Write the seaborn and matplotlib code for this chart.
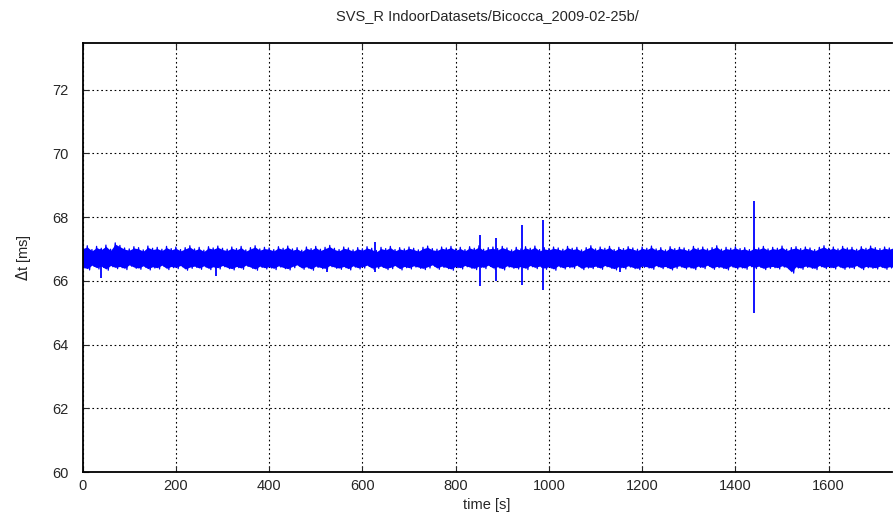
import seaborn as sns
import pandas as pd
import numpy as np
import matplotlib.pyplot as plt

# time grid of the envelope samples (s)
step = 10
t_start = 0
# upper edge of the jitter band, one value every 10 s (ms)
band_hi = [
    67.05, 67.10, 66.98, 67.08, 67.02, 67.12, 66.99, 67.19, 67.11, 67.03,
    67.00, 67.07, 67.04, 66.97, 67.09, 67.02, 67.05, 66.99, 67.08, 67.01,
    67.06, 66.98, 67.04, 67.10, 67.00, 67.05, 66.96, 67.07, 67.03, 67.09,
    67.02, 66.99, 67.06, 67.01, 67.08, 66.97, 67.04, 67.10, 67.00, 67.05,
    67.03, 66.98, 67.07, 67.02, 67.09, 67.00, 67.04, 66.96, 67.06, 67.01,
    67.08, 66.99, 67.05, 67.11, 67.02, 66.98, 67.06, 67.03, 66.97, 67.04,
    67.00, 67.07, 67.02, 66.95, 67.05, 67.01, 67.08, 66.98, 67.04, 67.00,
    67.06, 67.02, 66.97, 67.05, 67.09, 67.01, 66.99, 67.06, 67.03, 67.08,
    67.00, 67.05, 66.98, 67.07, 67.02, 67.10, 66.99, 67.04, 67.06, 67.01,
    67.08, 67.03, 66.97, 67.05, 67.00, 67.07, 67.02, 67.09, 66.98, 67.04,
    67.01, 67.06, 67.03, 66.99, 67.08, 67.02, 67.05, 66.97, 67.04, 67.10,
    67.00, 67.06, 67.02, 67.08, 66.98, 67.05, 67.01, 67.07, 67.03, 66.99,
    67.06, 67.02, 67.09, 67.00, 67.04, 66.97, 67.07, 67.01, 67.05, 67.03,
    66.98, 67.08, 67.02, 67.06, 67.00, 67.04, 67.10, 66.99, 67.05, 67.02,
    67.07, 67.01, 67.04, 66.98, 67.06, 67.03, 67.08, 67.00, 67.05, 67.02,
    67.09, 66.99, 67.04, 67.07, 67.01, 67.06, 67.03, 66.98, 67.05, 67.10,
    67.02, 67.06, 67.00, 67.08, 67.03, 67.05, 66.99, 67.07, 67.02, 67.09,
    67.04, 67.01, 67.06, 67.03, 67.08,
]
# lower edge of the jitter band (ms)
band_lo = [
    66.40, 66.34, 66.45, 66.37, 66.42, 66.33, 66.44, 66.38, 66.41, 66.35,
    66.46, 66.39, 66.36, 66.43, 66.34, 66.40, 66.37, 66.45, 66.35, 66.41,
    66.38, 66.44, 66.33, 66.39, 66.42, 66.36, 66.43, 66.35, 66.40, 66.37,
    66.44, 66.38, 66.34, 66.41, 66.36, 66.45, 66.39, 66.33, 66.42, 66.37,
    66.40, 66.35, 66.43, 66.38, 66.34, 66.41, 66.46, 66.36, 66.40, 66.33,
    66.42, 66.38, 66.35, 66.44, 66.39, 66.36, 66.41, 66.34, 66.43, 66.37,
    66.40, 66.45, 66.36, 66.39, 66.42, 66.35, 66.38, 66.44, 66.34, 66.41,
    66.37, 66.43, 66.39, 66.35, 66.40, 66.46, 66.36, 66.42, 66.38, 66.33,
    66.41, 66.37, 66.44, 66.39, 66.35, 66.42, 66.38, 66.45, 66.36, 66.40,
    66.34, 66.43, 66.39, 66.37, 66.41, 66.35, 66.44, 66.38, 66.42, 66.36,
    66.40, 66.33, 66.43, 66.37, 66.41, 66.39, 66.45, 66.35, 66.40, 66.38,
    66.42, 66.36, 66.44, 66.39, 66.34, 66.41, 66.37, 66.43, 66.38, 66.35,
    66.42, 66.40, 66.36, 66.44, 66.38, 66.41, 66.34, 66.39, 66.43, 66.37,
    66.40, 66.35, 66.42, 66.38, 66.45, 66.36, 66.41, 66.39, 66.34, 66.43,
    66.37, 66.40, 66.36, 66.44, 66.38, 66.42, 66.35, 66.39, 66.41, 66.37,
    66.43, 66.38, 66.24, 66.40, 66.36, 66.42, 66.39, 66.35, 66.44, 66.38,
    66.41, 66.37, 66.43, 66.36, 66.40, 66.38, 66.44, 66.35, 66.41, 66.39,
    66.37, 66.42, 66.36, 66.40, 66.38,
]

# isolated outliers: time (s), max and min of the spike (ms)
spike_t = [39, 286, 524, 627, 852, 887, 942, 988, 1153, 1440]
spike_hi = [67.00, 67.00, 67.00, 67.21, 67.45, 67.35, 67.76, 67.90, 67.00, 68.50]
spike_lo = [66.08, 66.16, 66.27, 66.28, 65.83, 66.00, 65.87, 65.71, 66.27, 64.98]

title = 'SVS_R IndoorDatasets/Bicocca_2009-02-25b/'

# zigzag series hi/lo/hi/lo... like the raw dense signal
t = t_start + step * np.arange(len(band_hi))
xs = np.column_stack([t, t + step / 2]).ravel()
ys = np.column_stack([band_hi, band_lo]).ravel()
data = pd.DataFrame({'time': xs, 'dt': ys})

sns.set_style('white')
plt.rcParams['font.family'] = ['Liberation Sans', 'DejaVu Sans']

fig = plt.figure(figsize=(8.93, 5.15), dpi=100)
ax = fig.add_axes([82.6 / 893, 43 / 515, (891.6 - 82.6) / 893, (472 - 42.7) / 515])

# solid body of the band, then the jagged trace on top
ax.fill_between(t, np.array(band_lo) + 0.04, np.array(band_hi) - 0.04,
                color='blue', lw=0)
sns.lineplot(x='time', y='dt', data=data, color='blue', lw=0.9, ax=ax,
             estimator=None, sort=False)
ax.vlines(spike_t, spike_lo, spike_hi, color='blue', lw=1.3)

ax.set_xlim(0, 1735)
ax.set_ylim(60, 73.47)
ax.set_xticks(range(0, 1601, 200))
ax.set_yticks(range(60, 73, 2))
ax.grid(True, color='black', linestyle=(0, (1.5, 2.5)), lw=0.8)
ax.tick_params(direction='in', length=4, width=0.8, labelsize=10.5,
               top=True, bottom=True, left=True, right=False, pad=5)
ax.tick_params(axis='y', pad=10)
for side in ['left', 'bottom', 'top']:
    ax.spines[side].set_color('black')
    ax.spines[side].set_linewidth(1.3)
ax.spines['right'].set_visible(False)

ax.set_title(title, fontsize=10.5, pad=16)
ax.set_xlabel('time [s]', fontsize=10.5, labelpad=4)
ax.set_ylabel(r'$\Delta$t [ms]', fontsize=10.5, labelpad=14)

fig.savefig('out.png', dpi=100)
